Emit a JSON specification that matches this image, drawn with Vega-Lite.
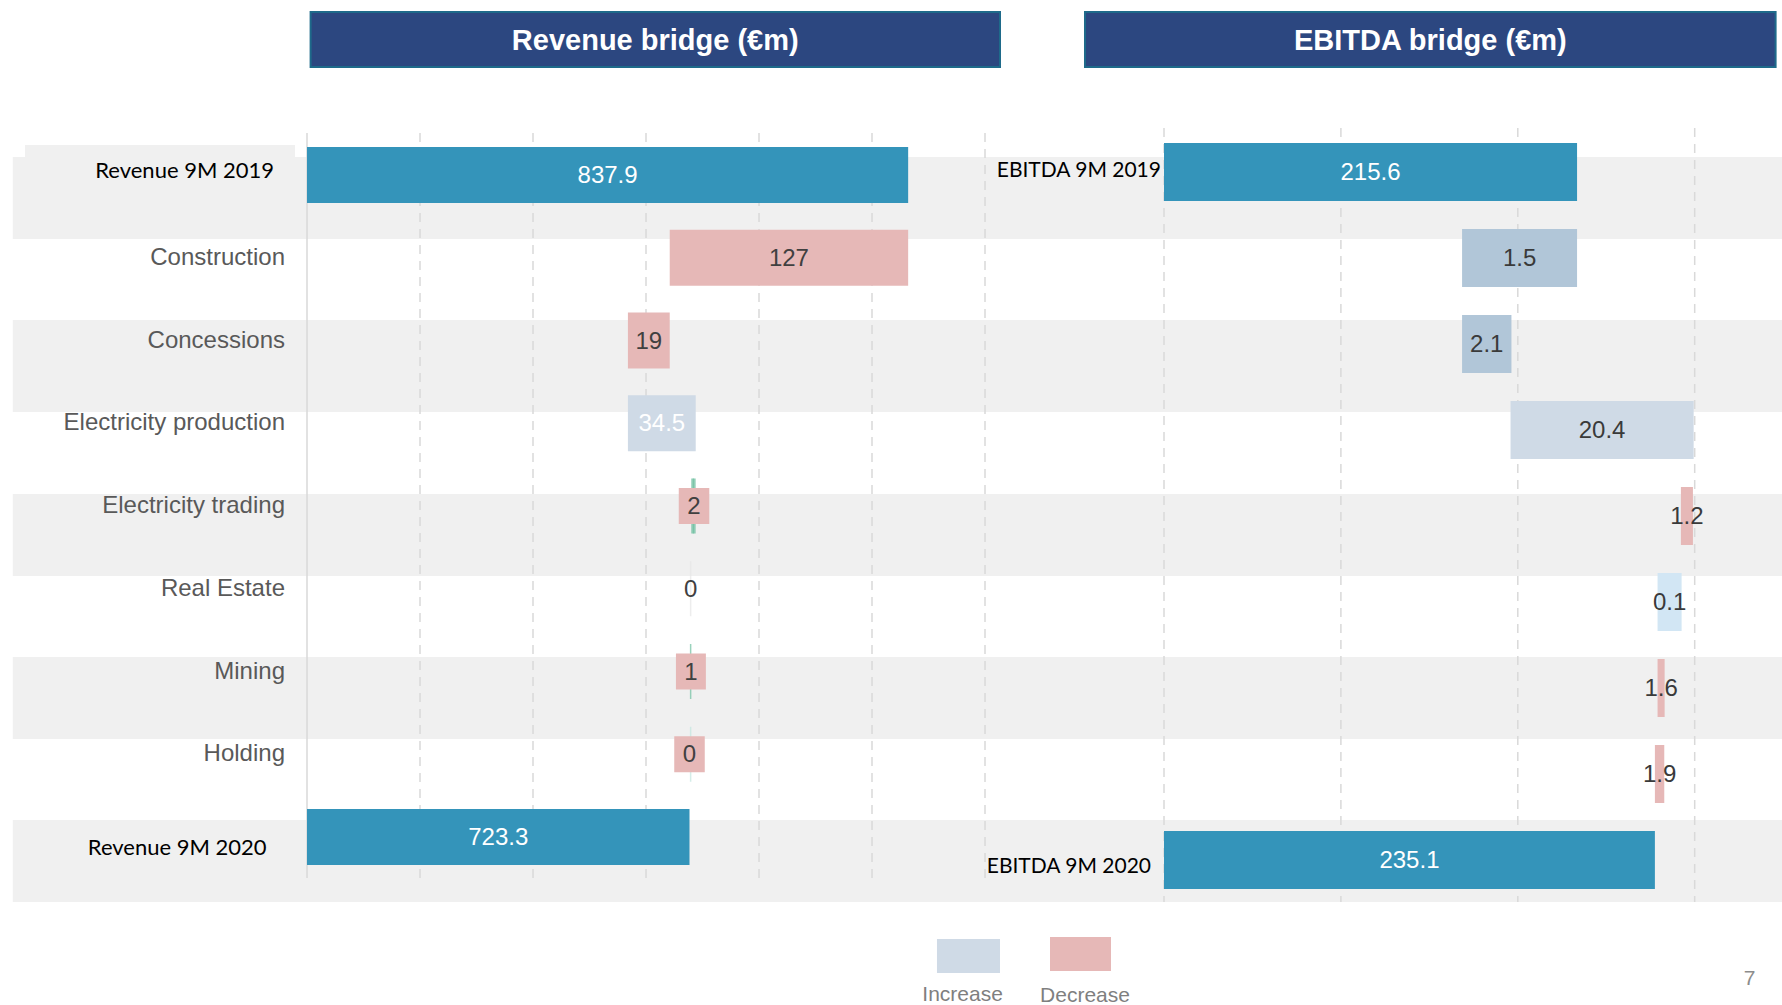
{
  "$schema": "https://vega.github.io/schema/vega-lite/v6.json",
  "width": 1782,
  "height": 1005,
  "autosize": {"type": "none"},
  "padding": 0,
  "background": "white",
  "config": {"view": {"stroke": null}, "axis": {"disable": true}, "legend": {"disable": true}, "scale": {"continuousPadding": 0}},
  "datasets": {
    "revenue": [
      {"category": "Revenue 9M 2019", "row": 0, "start": 0, "end": 532, "value": "837.9", "type": "total"},
      {"category": "Construction", "row": 1, "start": 321, "end": 532, "value": "127", "type": "decrease"},
      {"category": "Concessions", "row": 2, "start": 284, "end": 321, "value": "19", "type": "decrease"},
      {"category": "Electricity production", "row": 3, "start": 284, "end": 344, "value": "34.5", "type": "increase"},
      {"category": "Electricity trading", "row": 4, "start": 329, "end": 356, "value": "2", "type": "decrease"},
      {"category": "Real Estate", "row": 5, "start": 339.5, "end": 339.5, "value": "0", "type": "none"},
      {"category": "Mining", "row": 6, "start": 326.5, "end": 353, "value": "1", "type": "decrease"},
      {"category": "Holding", "row": 7, "start": 325, "end": 352, "value": "0", "type": "decrease"},
      {"category": "Revenue 9M 2020", "row": 8, "start": 0, "end": 338.5, "value": "723.3", "type": "total"}
    ],
    "revenueMarkers": [
      {"row": 4, "at": 342, "type": "flow"},
      {"row": 5, "at": 339.5, "type": "empty"},
      {"row": 6, "at": 339.5, "type": "flow"},
      {"row": 7, "at": 339.5, "type": "flow_faint"}
    ],
    "ebitda": [
      {"category": "EBITDA 9M 2019", "row": 0, "start": 0, "end": 233.5, "value": "215.6", "type": "total"},
      {"category": "Construction", "row": 1, "start": 168.5, "end": 233.5, "value": "1.5", "type": "increase_dark"},
      {"category": "Concessions", "row": 2, "start": 168.5, "end": 196.4, "value": "2.1", "type": "increase_dark"},
      {"category": "Electricity production", "row": 3, "start": 195.9, "end": 299.4, "value": "20.4", "type": "increase"},
      {"category": "Electricity trading", "row": 4, "start": 292.2, "end": 299, "value": "1.2", "type": "decrease"},
      {"category": "Real Estate", "row": 5, "start": 279, "end": 292.6, "value": "0.1", "type": "increase_light"},
      {"category": "Mining", "row": 6, "start": 279, "end": 283, "value": "1.6", "type": "decrease"},
      {"category": "Holding", "row": 7, "start": 277.5, "end": 282.8, "value": "1.9", "type": "decrease"},
      {"category": "EBITDA 9M 2020", "row": 8, "start": 0, "end": 277.5, "value": "235.1", "type": "total"}
    ],
    "bands": [
      {"top": -0.2175, "bottom": 0.7734},
      {"top": 1.7523, "bottom": 2.864},
      {"top": 3.855, "bottom": 4.846},
      {"top": 5.825, "bottom": 6.816},
      {"top": 7.795, "bottom": 8.785}
    ]
  },
  "layer": [
    {
      "layer": [
        {
          "data": {"name": "bands"},
          "mark": {"type": "rect", "color": "#F0F0F0"},
          "encoding": {
            "x": {"datum": -260.35, "type": "quantitative", "scale": {"domain": [-271.68, 1305.31], "nice": false, "zero": false, "padding": 0}},
            "x2": {"datum": 1305.31},
            "y": {"field": "top", "type": "quantitative", "scale": {"domain": [-2.1148, 10.0302], "reverse": true, "nice": false, "zero": false, "padding": 0}},
            "y2": {"field": "bottom"}
          }
        },
        {
          "data": {"values": [{"box": "label"}]},
          "mark": {"type": "rect", "color": "#F0F0F0"},
          "encoding": {
            "x": {"datum": -249.6, "type": "quantitative"},
            "x2": {"datum": -10.6},
            "y": {"datum": -0.3625, "type": "quantitative"},
            "y2": {"datum": -0.2175}
          }
        },
        {
          "data": {"values": [{"v": 0}, {"v": 100}, {"v": 200}, {"v": 300}, {"v": 400}, {"v": 500}, {"v": 600}]},
          "mark": {"type": "rule", "color": "#D9D9D9", "strokeWidth": 1.5},
          "encoding": {
            "x": {"field": "v", "type": "quantitative"},
            "y": {"datum": -0.5076, "type": "quantitative"},
            "y2": {"datum": 8.4955},
            "strokeDash": {"condition": {"test": "datum.v == 0", "value": [1, 0]}, "value": [9, 7]}
          }
        },
        {
          "data": {"values": [{"title": "Revenue bridge (€m)"}]},
          "layer": [
            {
              "mark": {"type": "rect", "fill": "#2C4780", "stroke": "#1E6A8A", "strokeWidth": 2},
              "encoding": {
                "x": {"datum": 3.19, "type": "quantitative"},
                "x2": {"datum": 613.27},
                "y": {"datum": -1.9698, "type": "quantitative"},
                "y2": {"datum": -1.3051}
              }
            },
            {
              "mark": {"type": "text", "font": "Liberation Sans", "fontSize": 29, "fontWeight": "bold", "color": "white", "align": "center", "baseline": "middle", "dy": 2},
              "encoding": {
                "x": {"datum": 308.2, "type": "quantitative"},
                "y": {"datum": -1.6375, "type": "quantitative"},
                "text": {"field": "title"}
              }
            }
          ]
        },
        {
          "data": {"name": "revenue"},
          "transform": [{"filter": "datum.type != 'none' && datum.row != 4 && datum.row != 6 && datum.row != 7"}],
          "mark": {"type": "bar", "orient": "horizontal", "size": 56},
          "encoding": {
            "x": {"field": "start", "type": "quantitative"},
            "x2": {"field": "end"},
            "y": {"field": "row", "type": "quantitative"},
            "color": {"field": "type", "type": "nominal", "scale": {"domain": ["total", "increase", "decrease", "increase_dark", "increase_light", "flow", "empty", "flow_faint"], "range": ["#3494BA", "#CFDAE6", "#E6B8B7", "#B1C6D8", "#D2E6F4", "#6DBF9F", "#E6E6E6", "#C2E5DE"]}}
          }
        },
        {
          "data": {"name": "revenueMarkers"},
          "mark": {"type": "tick", "orient": "vertical", "size": 55, "thickness": 1.5},
          "encoding": {
            "x": {"field": "at", "type": "quantitative"},
            "y": {"field": "row", "type": "quantitative"},
            "color": {"field": "type", "type": "nominal"}
          }
        },
        {
          "data": {"name": "revenueMarkers"},
          "transform": [{"filter": "datum.row == 4"}],
          "mark": {"type": "tick", "orient": "vertical", "size": 55, "thickness": 4.5},
          "encoding": {
            "x": {"field": "at", "type": "quantitative"},
            "y": {"field": "row", "type": "quantitative"},
            "color": {"field": "type", "type": "nominal"}
          }
        },
        {
          "data": {"name": "revenue"},
          "transform": [{"filter": "datum.row == 4 || datum.row == 6 || datum.row == 7"}],
          "mark": {"type": "bar", "orient": "horizontal", "size": 36},
          "encoding": {
            "x": {"field": "start", "type": "quantitative"},
            "x2": {"field": "end"},
            "y": {"field": "row", "type": "quantitative"},
            "color": {"field": "type", "type": "nominal"}
          }
        },
        {
          "data": {"name": "revenue"},
          "transform": [
            {"fold": ["start", "end"], "as": ["edge", "pos"]},
            {"aggregate": [{"op": "mean", "field": "pos", "as": "mid"}], "groupby": ["row", "value", "type"]}
          ],
          "mark": {"type": "text", "font": "Liberation Sans", "fontSize": 24, "align": "center", "baseline": "middle", "dy": 1},
          "encoding": {
            "x": {"field": "mid", "type": "quantitative"},
            "y": {"field": "row", "type": "quantitative"},
            "text": {"field": "value"},
            "color": {"condition": {"test": "datum.type == 'total' || datum.type == 'increase'", "value": "#FFFFFF"}, "value": "#404040"}
          }
        },
        {
          "data": {"name": "revenue"},
          "transform": [{"filter": "datum.type != 'total'"}],
          "mark": {"type": "text", "font": "Liberation Sans", "fontSize": 24, "align": "right", "baseline": "middle", "color": "#595959"},
          "encoding": {
            "x": {"datum": -19.47, "type": "quantitative"},
            "y": {"field": "row", "type": "quantitative"},
            "text": {"field": "category"}
          }
        },
        {
          "data": {"name": "revenue"},
          "transform": [{"filter": "datum.row == 0"}],
          "mark": {"type": "text", "font": "Lato", "fontSize": 22, "align": "right", "baseline": "middle", "color": "#000000", "dy": -4},
          "encoding": {
            "x": {"datum": -29.2, "type": "quantitative"},
            "y": {"field": "row", "type": "quantitative"},
            "text": {"field": "category"}
          }
        },
        {
          "data": {"name": "revenue"},
          "transform": [{"filter": "datum.row == 8"}],
          "mark": {"type": "text", "font": "Lato", "fontSize": 22, "align": "right", "baseline": "middle", "color": "#000000", "dy": 11},
          "encoding": {
            "x": {"datum": -35.75, "type": "quantitative"},
            "y": {"field": "row", "type": "quantitative"},
            "text": {"field": "category"}
          }
        },
        {
          "data": {"values": [{"type": "increase", "label": "Increase"}]},
          "layer": [
            {
              "mark": {"type": "rect"},
              "encoding": {
                "x": {"datum": 557.5, "type": "quantitative"},
                "x2": {"datum": 613.27},
                "y": {"datum": 9.2326, "type": "quantitative"},
                "y2": {"datum": 9.6435},
                "color": {"field": "type", "type": "nominal"}
              }
            },
            {
              "mark": {"type": "text", "font": "Liberation Sans", "fontSize": 21, "align": "center", "baseline": "middle", "color": "#7F7F7F", "dy": 1},
              "encoding": {
                "x": {"datum": 580.2, "type": "quantitative"},
                "y": {"datum": 9.8973, "type": "quantitative"},
                "text": {"field": "label"}
              }
            }
          ]
        }
      ]
    },
    {
      "layer": [
        {
          "data": {"values": [{"v": 0}, {"v": 100}, {"v": 200}, {"v": 300}]},
          "mark": {"type": "rule", "color": "#D9D9D9", "strokeWidth": 1.5, "strokeDash": [9, 7]},
          "encoding": {
            "x": {"field": "v", "type": "quantitative", "scale": {"domain": [-658.0, 349.35], "nice": false, "zero": false, "padding": 0}},
            "y": {"datum": -0.5116, "type": "quantitative", "scale": {"domain": [-2.0, 9.686], "reverse": true, "nice": false, "zero": false, "padding": 0}},
            "y2": {"datum": 8.4884}
          }
        },
        {
          "data": {"values": [{"title": "EBITDA bridge (€m)"}]},
          "layer": [
            {
              "mark": {"type": "rect", "fill": "#2C4780", "stroke": "#1E6A8A", "strokeWidth": 2},
              "encoding": {
                "x": {"datum": -44.66, "type": "quantitative"},
                "x2": {"datum": 345.73},
                "y": {"datum": -1.8605, "type": "quantitative"},
                "y2": {"datum": -1.2209}
              }
            },
            {
              "mark": {"type": "text", "font": "Liberation Sans", "fontSize": 29, "fontWeight": "bold", "color": "white", "align": "center", "baseline": "middle", "dy": 2},
              "encoding": {
                "x": {"datum": 150.54, "type": "quantitative"},
                "y": {"datum": -1.5407, "type": "quantitative"},
                "text": {"field": "title"}
              }
            }
          ]
        },
        {
          "data": {"name": "ebitda"},
          "mark": {"type": "bar", "orient": "horizontal", "size": 58},
          "encoding": {
            "x": {"field": "start", "type": "quantitative"},
            "x2": {"field": "end"},
            "y": {"field": "row", "type": "quantitative"},
            "color": {"field": "type", "type": "nominal", "scale": {"domain": ["total", "increase", "decrease", "increase_dark", "increase_light", "flow", "empty", "flow_faint"], "range": ["#3494BA", "#CFDAE6", "#E6B8B7", "#B1C6D8", "#D2E6F4", "#6DBF9F", "#E6E6E6", "#C2E5DE"]}}
          }
        },
        {
          "data": {"name": "ebitda"},
          "transform": [
            {"fold": ["start", "end"], "as": ["edge", "pos"]},
            {"aggregate": [{"op": "mean", "field": "pos", "as": "mid"}], "groupby": ["row", "value", "type"]}
          ],
          "mark": {"type": "text", "font": "Liberation Sans", "fontSize": 24, "align": "center", "baseline": "middle", "dy": 1},
          "encoding": {
            "x": {"field": "mid", "type": "quantitative"},
            "y": {"field": "row", "type": "quantitative"},
            "text": {"field": "value"},
            "color": {"condition": {"test": "datum.type == 'total'", "value": "#FFFFFF"}, "value": "#3A3A3A"}
          }
        },
        {
          "data": {"name": "ebitda"},
          "transform": [{"filter": "datum.row == 0"}],
          "mark": {"type": "text", "font": "Lato", "fontSize": 21, "align": "right", "baseline": "middle", "color": "#000000", "dy": -1},
          "encoding": {
            "x": {"datum": -1.7, "type": "quantitative"},
            "y": {"field": "row", "type": "quantitative"},
            "text": {"field": "category"}
          }
        },
        {
          "data": {"name": "ebitda"},
          "transform": [{"filter": "datum.row == 8"}],
          "mark": {"type": "text", "font": "Lato", "fontSize": 21, "align": "right", "baseline": "middle", "color": "#000000", "dy": 7},
          "encoding": {
            "x": {"datum": -7.35, "type": "quantitative"},
            "y": {"field": "row", "type": "quantitative"},
            "text": {"field": "category"}
          }
        },
        {
          "data": {"values": [{"type": "decrease", "label": "Decrease"}]},
          "layer": [
            {
              "mark": {"type": "rect"},
              "encoding": {
                "x": {"datum": -64.44, "type": "quantitative"},
                "x2": {"datum": -29.96},
                "y": {"datum": 8.8953, "type": "quantitative"},
                "y2": {"datum": 9.2907},
                "color": {"field": "type", "type": "nominal"}
              }
            },
            {
              "mark": {"type": "text", "font": "Liberation Sans", "fontSize": 21, "align": "center", "baseline": "middle", "color": "#7F7F7F", "dy": 1},
              "encoding": {
                "x": {"datum": -44.66, "type": "quantitative"},
                "y": {"datum": 9.5698, "type": "quantitative"},
                "text": {"field": "label"}
              }
            }
          ]
        },
        {
          "data": {"values": [{"page": "7"}]},
          "mark": {"type": "text", "font": "Liberation Sans", "fontSize": 21, "align": "center", "baseline": "middle", "color": "#8C8C8C"},
          "encoding": {
            "x": {"datum": 330.98, "type": "quantitative"},
            "y": {"datum": 9.3837, "type": "quantitative"},
            "text": {"field": "page"}
          }
        }
      ]
    }
  ],
  "resolve": {"scale": {"x": "independent", "y": "independent"}}
}
